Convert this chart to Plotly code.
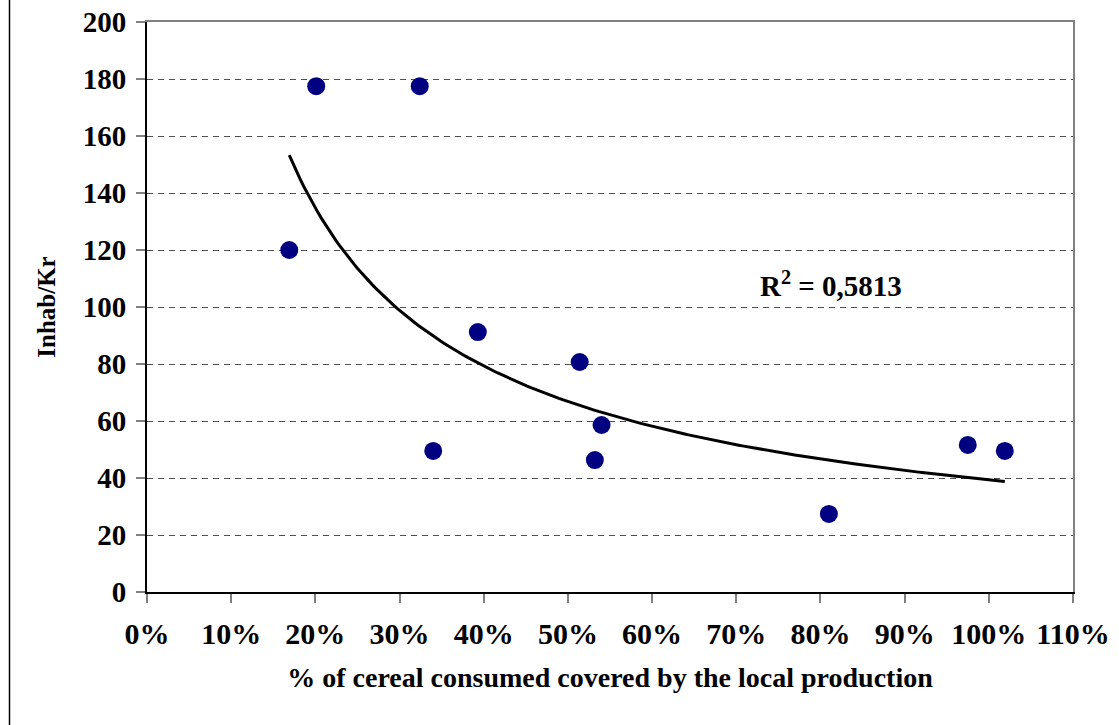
import numpy as np
import plotly.graph_objects as go

# Data
coverage = [0.169, 0.201, 0.324, 0.340, 0.393, 0.514, 0.532, 0.540, 0.810, 0.975, 1.019]
inhab_per_kr = [120, 177.5, 177.5, 49.5, 91.2, 80.7, 46.3, 58.6, 27.4, 51.6, 49.5]
x_ticks = [0, 0.1, 0.2, 0.3, 0.4, 0.5, 0.6, 0.7, 0.8, 0.9, 1.0, 1.1]
x_tick_labels = ["0%", "10%", "20%", "30%", "40%", "50%", "60%", "70%", "80%", "90%", "100%", "110%"]
y_ticks = [0, 20, 40, 60, 80, 100, 120, 140, 160, 180, 200]
r2_label = "R<sup>2</sup> = 0,5813"

# Power trendline (least squares on logs), as Excel does
lx = np.log(np.array(coverage))
ly = np.log(np.array(inhab_per_kr))
b, lna = np.polyfit(lx, ly, 1)
a = np.exp(lna)
xt = np.linspace(min(coverage), max(coverage), 200)
yt = a * xt ** b

FONT = "Liberation Serif"
W, H = 1119, 725
L, R, T, B = 147, 46, 22, 133
pw = W - L - R

fig = go.Figure()
fig.add_trace(go.Scatter(x=xt, y=yt, mode="lines",
                         line=dict(color="black", width=3), hoverinfo="skip",
                         showlegend=False))
fig.add_trace(go.Scatter(x=coverage, y=inhab_per_kr, mode="markers",
                         marker=dict(color="#000080", size=18, line=dict(width=0)),
                         showlegend=False))

fig.update_layout(
    width=W, height=H,
    margin=dict(l=L, r=R, t=T, b=B, autoexpand=False),
    paper_bgcolor="white", plot_bgcolor="white",
    font=dict(family=FONT, color="black"),
    xaxis=dict(range=[0, 1.1], tickvals=x_ticks, ticktext=x_tick_labels,
               automargin=False, ticklabeloverflow="allow",
               showgrid=False, zeroline=False,
               showline=True, linecolor="black", linewidth=2,
               mirror=False, ticks="outside", ticklen=9, tickwidth=2, tickcolor="#808080",
               tickfont=dict(family=FONT, size=30, color="black", weight="bold"),
               ticklabelstandoff=5,
               title=dict(text="<b>% of cereal consumed covered by the local production</b>",
                          font=dict(family=FONT, size=28, color="black"), standoff=18)),
    yaxis=dict(range=[0, 200], tickvals=y_ticks,
               automargin=False, ticklabeloverflow="allow",
               showgrid=True, gridcolor="#505050", gridwidth=1, griddash="6px,5px",
               zeroline=False,
               showline=True, linecolor="black", linewidth=2,
               ticks="outside", ticklen=9, tickwidth=2, tickcolor="#808080",
               tickfont=dict(family=FONT, size=29, color="black", weight="bold"),
               ticklabelstandoff=4,
               title=dict(text="<b>Inhab/Kr</b>",
                          font=dict(family=FONT, size=25, color="black"), standoff=20)),
    # grey frame on top and right of the plot area
    xaxis2=dict(overlaying="x", side="top", range=[0, 1.1], showline=True,
                linecolor="#808080", linewidth=2, showgrid=False, zeroline=False,
                showticklabels=False, ticks="", automargin=False),
    yaxis2=dict(overlaying="y", side="right", range=[0, 200], showline=True,
                linecolor="#808080", linewidth=2, showgrid=False, zeroline=False,
                showticklabels=False, ticks="", automargin=False),
    annotations=[dict(x=0.8125, y=108, xref="x", yref="y", text="<b>" + r2_label + "</b>",
                      showarrow=False, font=dict(family=FONT, size=29, color="black"))],
    shapes=[
        dict(type="line", xref="paper", yref="paper",
             x0=(9.5 - L) / pw, x1=(9.5 - L) / pw, y0=-2, y1=2,
             line=dict(color="black", width=1.5)),
    ],
)
# invisible trace to activate the secondary (frame) axes
fig.add_trace(go.Scatter(x=[None], y=[None], xaxis="x2", yaxis="y2",
                         showlegend=False, hoverinfo="skip"))
fig.write_html("out.html", config={"displayModeBar": False},
               post_script="document.body.style.margin='0';")
